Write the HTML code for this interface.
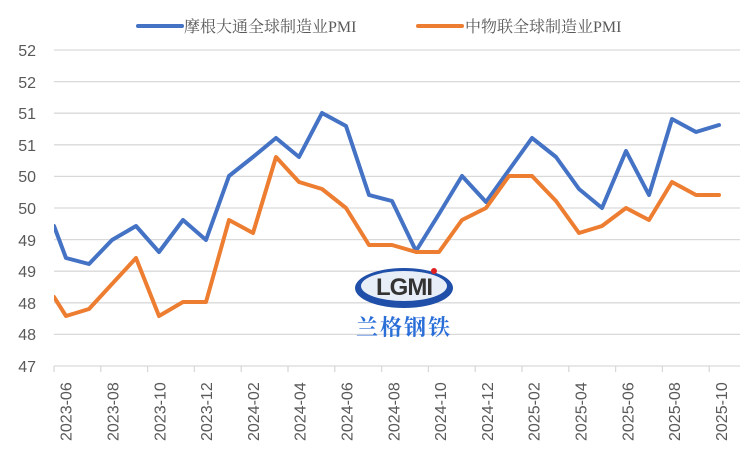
<!DOCTYPE html>
<html><head><meta charset="utf-8"><style>
html,body{margin:0;padding:0;background:#fff;}
svg{display:block;}
</style></head><body>
<svg width="752" height="450" viewBox="0 0 752 450" xmlns="http://www.w3.org/2000/svg">
<rect width="752" height="450" fill="#fff"/>
<g stroke="#d9d9d9" stroke-width="1.3">
<line x1="54" x2="740" y1="50" y2="50"/><line x1="54" x2="740" y1="81.6" y2="81.6"/>
<line x1="54" x2="740" y1="113.2" y2="113.2"/><line x1="54" x2="740" y1="144.8" y2="144.8"/>
<line x1="54" x2="740" y1="176.4" y2="176.4"/><line x1="54" x2="740" y1="208" y2="208"/>
<line x1="54" x2="740" y1="239.6" y2="239.6"/><line x1="54" x2="740" y1="271.2" y2="271.2"/>
<line x1="54" x2="740" y1="302.8" y2="302.8"/><line x1="54" x2="740" y1="334.4" y2="334.4"/>
<line x1="54" x2="740" y1="366" y2="366"/>
</g>
<g stroke="#d9d9d9" stroke-width="1.3" id="ticks"></g>
<g font-family="Liberation Sans, sans-serif" font-size="16" fill="#595959" text-anchor="end">
<text x="36" y="56">52</text><text x="36" y="88">52</text><text x="36" y="119">51</text><text x="36" y="151">51</text>
<text x="36" y="182">50</text><text x="36" y="214">50</text><text x="36" y="246">49</text><text x="36" y="277">49</text>
<text x="36" y="309">48</text><text x="36" y="340">48</text><text x="36" y="372">47</text>
</g>
<g id="xl" font-family="Liberation Sans, sans-serif" font-size="16" fill="#595959"></g>
<!-- logo -->
<g>
<ellipse cx="404" cy="288" rx="49" ry="20" fill="#1f4fa8"/>
<ellipse cx="404" cy="286" rx="43" ry="15" fill="#e8eef8"/>
<text x="404" y="295" text-anchor="middle" font-family="Liberation Sans, sans-serif" font-weight="bold" font-size="24" fill="#333" letter-spacing="-1">LGMI</text>
<circle cx="434" cy="271" r="3" fill="#e02020"/>
<text x="404" y="335" text-anchor="middle" font-family="Noto Serif CJK SC, serif" font-weight="bold" font-size="22" fill="#2a6ed8" letter-spacing="2">兰格钢铁</text>
</g>
<clipPath id="c"><rect x="54" y="0" width="700" height="450"/></clipPath>
<g clip-path="url(#c)" fill="none" stroke-width="4" stroke-linejoin="round" stroke-linecap="round">
<polyline stroke="#4472c4" points="54,226 66,258 89,264 112,240 136,226 159,252 183,220 206,240 229,176 253,157 276,138 299,157 322,113 346,126 369,195 392,201 416,251 439,214 462,176 486,202 509,170 532,138 556,157 579,189 602,208 626,151 649,195 672,119 696,132 719,125"/>
<polyline stroke="#ed7d31" points="54,297 66,316 89,309 112,284 136,258 159,316 183,302 206,302 229,220 253,233 276,157 299,182 322,189 346,208 369,245 392,245 416,252 439,252 462,220 486,208 509,176 532,176 556,201 579,233 602,226 626,208 649,220 672,182 696,195 719,195"/>
</g>
<line x1="138" x2="182" y1="26" y2="26" stroke="#4472c4" stroke-width="4" stroke-linecap="round"/>
<text x="184" y="32" font-family="Liberation Serif, Noto Serif CJK SC, serif" font-size="16" fill="#595959">摩根大通全球制造业PMI</text>
<line x1="418" x2="462" y1="26" y2="26" stroke="#ed7d31" stroke-width="4" stroke-linecap="round"/>
<text x="465" y="32" font-family="Liberation Serif, Noto Serif CJK SC, serif" font-size="16" fill="#595959">中物联全球制造业PMI</text>
<script>
var t=document.getElementById('ticks'),xl=document.getElementById('xl'),ns='http://www.w3.org/2000/svg';
var labs=['2023-06','2023-08','2023-10','2023-12','2024-02','2024-04','2024-06','2024-08','2024-10','2024-12','2025-02','2025-04','2025-06','2025-08','2025-10'];
for(var k=0;k<15;k++){var x=54+k*46.8;var l=document.createElementNS(ns,'line');l.setAttribute('x1',x);l.setAttribute('x2',x);l.setAttribute('y1',366);l.setAttribute('y2',372);t.appendChild(l);
var cx=65.7+k*46.8+6;var tx=document.createElementNS(ns,'text');tx.setAttribute('transform','translate('+cx+',441) rotate(-90)');tx.textContent=labs[k];xl.appendChild(tx);}
</script>
</svg>
</body></html>
